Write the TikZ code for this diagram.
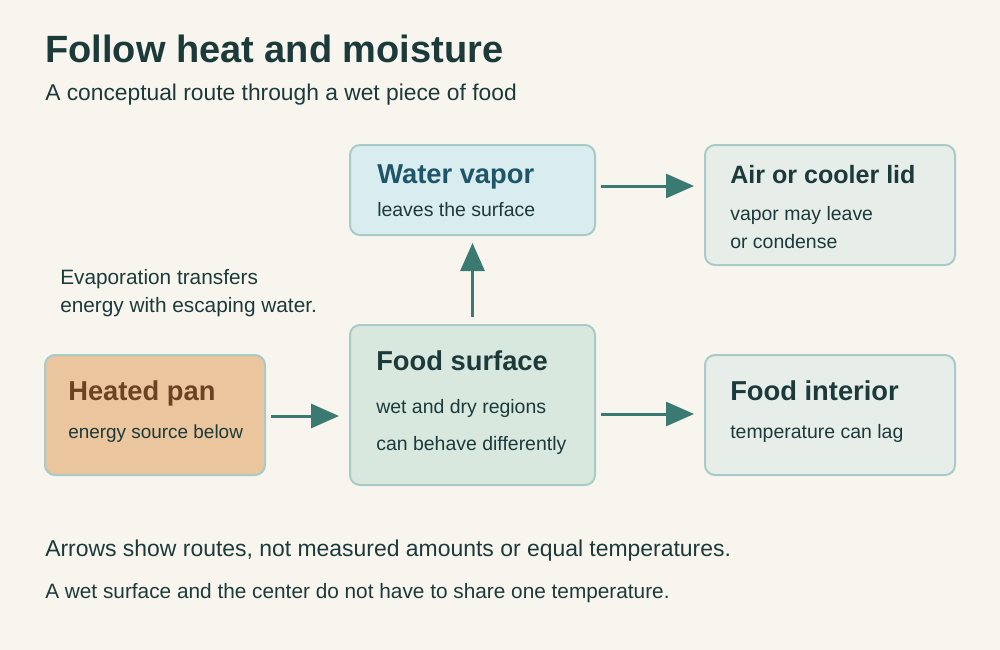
\documentclass[tikz,border=0pt]{standalone}
\usepackage{fontspec}
\setmainfont{Liberation Sans}
\usetikzlibrary{arrows.meta,positioning}

\definecolor{bgcream}{HTML}{F8F5EF}
\definecolor{inkdark}{HTML}{1C3A3A}
\definecolor{vaporfill}{HTML}{D9EDF0}
\definecolor{vaporink}{HTML}{1F5568}
\definecolor{greyfill}{HTML}{E7EEE9}
\definecolor{surffill}{HTML}{D8E8DF}
\definecolor{panfill}{HTML}{EAC59D}
\definecolor{panink}{HTML}{6B4323}
\definecolor{boxline}{HTML}{A9CBC8}
\definecolor{arrowteal}{HTML}{3A7A72}

\tikzset{
  box/.style={draw=boxline, line width=1.5pt, rounded corners=7.5pt},
  label/.style={anchor=base west, inner sep=0pt, text=inkdark},
  head/.style={label, font=\bfseries\fontsize{20.5}{24}\selectfont},
  small/.style={label, font=\fontsize{14.6}{17}\selectfont},
  note/.style={label, font=\fontsize{15.6}{18}\selectfont},
  flow/.style={draw=arrowteal, line width=2.25pt,
    -{Triangle[length=21pt, width=18pt]}}
}

\begin{document}
\begin{tikzpicture}[x=0.75pt, y=-0.75pt]

\fill[bgcream] (0,0) rectangle (1000,650);
\useasboundingbox (0,0) rectangle (1000,650);

% title
\node[label, font=\bfseries\fontsize{28.5}{32}\selectfont] (title) at (45,62) {Follow heat and moisture};
\node[label, font=\fontsize{17.1}{20}\selectfont] (subtitle) at (45,100) {A conceptual route through a wet piece of food};

% boxes
\node[box, fill=panfill, minimum width=165pt, minimum height=90pt] (pan) at (155,415) {};
\node[box, fill=surffill, minimum width=183.75pt, minimum height=120pt] (surf) at (472.5,405) {};
\node[box, fill=vaporfill, minimum width=183.75pt, minimum height=67.5pt] (vapor) at (472.5,190) {};
\node[box, fill=greyfill, minimum width=187.5pt, minimum height=90pt] (lid) at (830,205) {};
\node[box, fill=greyfill, minimum width=187.5pt, minimum height=90pt] (interior) at (830,415) {};

% box texts
\node[head, text=panink] (panhead) at (68,400) {Heated pan};
\node[small, font=\fontsize{14.2}{17}\selectfont] (pantext) at (68,438) {energy source below};

\node[head] (surfhead) at (376,370) {Food surface};
\node[small] (surftexta) at (376,413) {wet and dry regions};
\node[small] (surftextb) at (376,450) {can behave differently};

\node[head, text=vaporink] (vaporhead) at (377,183) {Water vapor};
\node[small] (vaportext) at (377,216) {leaves the surface};

\node[head, font=\bfseries\fontsize{18.8}{22}\selectfont] (lidhead) at (730,183) {Air or cooler lid};
\node[small] (lidtexta) at (730,220) {vapor may leave};
\node[small] (lidtextb) at (730,248) {or condense};

\node[head] (interiorhead) at (730,400) {Food interior};
\node[small] (interiortext) at (730,438) {temperature can lag};

% note
\node[note] (notea) at (60,284) {Evaporation transfers};
\node[note] (noteb) at (60,312) {energy with escaping water.};

% arrows
\draw[flow, shorten <=3.75pt, shorten >=7.5pt] ([yshift=-0.75pt]pan.east) -- ([yshift=-0.75pt]pan.east -| surf.west);
\draw[flow, shorten <=3.75pt, shorten >=7.5pt] ([yshift=0.75pt]interior.west -| surf.east) -- ([yshift=0.75pt]interior.west);
\draw[flow, shorten <=5.25pt, shorten >=5.25pt] (surf.north) -- (vapor.south);
\draw[flow, shorten <=3.75pt, shorten >=7.5pt] ([yshift=3pt]vapor.east) -- ([yshift=3pt]vapor.east -| lid.west);

% footer
\node[label, font=\fontsize{17.2}{20}\selectfont] (footera) at (45,556) {Arrows show routes, not measured amounts or equal temperatures.};
\node[note] (footerb) at (45,598) {A wet surface and the center do not have to share one temperature.};

\end{tikzpicture}
\end{document}
